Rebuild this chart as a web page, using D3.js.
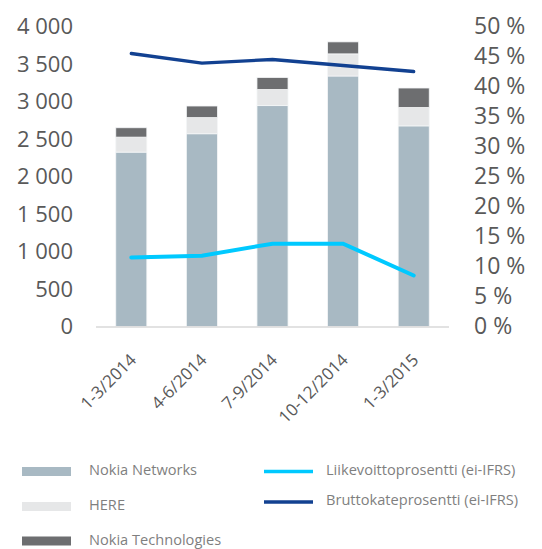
<!DOCTYPE html>
<html lang="fi">
<head>
<meta charset="utf-8">
<title>Nokia</title>
<script src="https://d3js.org/d3.v7.min.js"></script>
<style>
body { margin: 0; background: #fff; }
text { font-family: "Open Sans", sans-serif; }
.tick text { fill: #595959; font-size: 22px; }
.right .tick text { font-size: 23px; }
.xlab { fill: #595959; font-size: 17px; }
.leg { fill: #7f7f7f; font-size: 14.6px; }
</style>
</head>
<body>
<div id="container"></div>
<script>
// data
var quarters = ["1-3/2014", "4-6/2014", "7-9/2014", "10-12/2014", "1-3/2015"];
var networks = [2325, 2570, 2945, 3340, 2675];
var here = [200, 215, 215, 295, 245];
var technologies = [125, 155, 160, 160, 260];
var operatingMargin = [11.5, 11.8, 13.8, 13.8, 8.5];   // Liikevoittoprosentti
var grossMargin = [45.5, 43.9, 44.5, 43.5, 42.5];       // Bruttokateprosentti
var leftTicks = [0, 500, 1000, 1500, 2000, 2500, 3000, 3500, 4000];
var rightTicks = [0, 5, 10, 15, 20, 25, 30, 35, 40, 45, 50];
var barSeries = ["Nokia Networks", "HERE", "Nokia Technologies"];
var lineSeries = ["Liikevoittoprosentti (ei-IFRS)", "Bruttokateprosentti (ei-IFRS)"];

var w = 542, h = 549;
var svg = d3.select("#container").append("svg")
    .attr("width", w).attr("height", h)
    .style("display", "block");

var x = d3.scaleBand().domain(quarters).range([96, 449])
    .paddingInner(0.56).paddingOuter(0.28);
var y = d3.scaleLinear().domain([0, 4000]).range([326.5, 26.5]);
var y2 = d3.scaleLinear().domain([0, 50]).range([326.5, 26.5]);
var colors = d3.scaleOrdinal().domain(barSeries).range(["#a8b9c3", "#e6e7e8", "#6d6e70"]);

var loc = d3.formatLocale({decimal: ",", thousands: "\u00a0", grouping: [3], currency: ["", " €"]});
var fmt = loc.format(",");

// axes
svg.append("g").attr("transform", "translate(73,0)")
    .call(d3.axisLeft(y).tickValues(leftTicks).tickSize(0).tickPadding(0).tickFormat(fmt))
    .call(g => g.select(".domain").remove());
svg.append("g").attr("class", "right").attr("transform", "translate(474,0)")
    .call(d3.axisRight(y2).tickValues(rightTicks).tickSize(0).tickPadding(0).tickFormat(d => d + "\u00a0%"))
    .call(g => g.select(".domain").remove());
svg.selectAll(".tick text").attr("font-family", null);

// stacked bars
var rows = quarters.map(function(q, i) {
  return {q: q, "Nokia Networks": networks[i], "HERE": here[i], "Nokia Technologies": technologies[i]};
});
var stack = d3.stack().keys(barSeries)(rows);
svg.append("g").selectAll("g").data(stack).enter().append("g")
    .attr("fill", d => colors(d.key))
  .selectAll("rect").data(d => d).enter().append("rect")
    .attr("x", d => x(d.data.q))
    .attr("width", x.bandwidth())
    .attr("y", d => y(d[1]))
    .attr("height", d => y(d[0]) - y(d[1]))
    .attr("stroke", "#f4f6f7").attr("stroke-width", 0.8);

// baseline
svg.append("line").attr("x1", 96).attr("x2", 449)
    .attr("y1", y(0) + 0.5).attr("y2", y(0) + 0.5)
    .attr("stroke", "#d9d9d9").attr("stroke-width", 1.5);

// lines
var line = function(vals) {
  return d3.line().x((d, i) => x(quarters[i]) + x.bandwidth() / 2).y(d => y2(d))(vals);
};
svg.append("path").attr("d", line(grossMargin)).attr("fill", "none")
    .attr("stroke", "#124191").attr("stroke-width", 3.3).attr("stroke-linecap", "round");
svg.append("path").attr("d", line(operatingMargin)).attr("fill", "none")
    .attr("stroke", "#00c9ff").attr("stroke-width", 4).attr("stroke-linecap", "round");

// x labels
svg.selectAll(".xlab").data(quarters).enter().append("text")
    .attr("class", "xlab")
    .attr("text-anchor", "end")
    .attr("transform", d => "translate(" + (x(d) + x.bandwidth() / 2 + 6) + ",361) rotate(-45)")
    .text(d => d);

// legend
var legY = [471.5, 506.5, 541];
svg.selectAll(".legr").data(barSeries).enter().append("rect")
    .attr("x", 22).attr("y", (d, i) => legY[i] - 4.5)
    .attr("width", 49).attr("height", 9)
    .attr("fill", d => colors(d));
svg.selectAll(".legt").data(barSeries).enter().append("text")
    .attr("class", "leg")
    .attr("x", 89).attr("y", (d, i) => legY[i] - 1.5).attr("dy", "0.35em")
    .text(d => d);

var lineY = [471.5, 502];
var lineCol = ["#00c9ff", "#124191"];
svg.selectAll(".legl").data(lineSeries).enter().append("line")
    .attr("x1", 264).attr("x2", 313)
    .attr("y1", (d, i) => lineY[i]).attr("y2", (d, i) => lineY[i])
    .attr("stroke", (d, i) => lineCol[i]).attr("stroke-width", 3.5);
svg.selectAll(".leglt").data(lineSeries).enter().append("text")
    .attr("class", "leg")
    .attr("x", 326).attr("y", (d, i) => lineY[i] - 2).attr("dy", "0.35em")
    .text(d => d);
</script>
</body>
</html>
